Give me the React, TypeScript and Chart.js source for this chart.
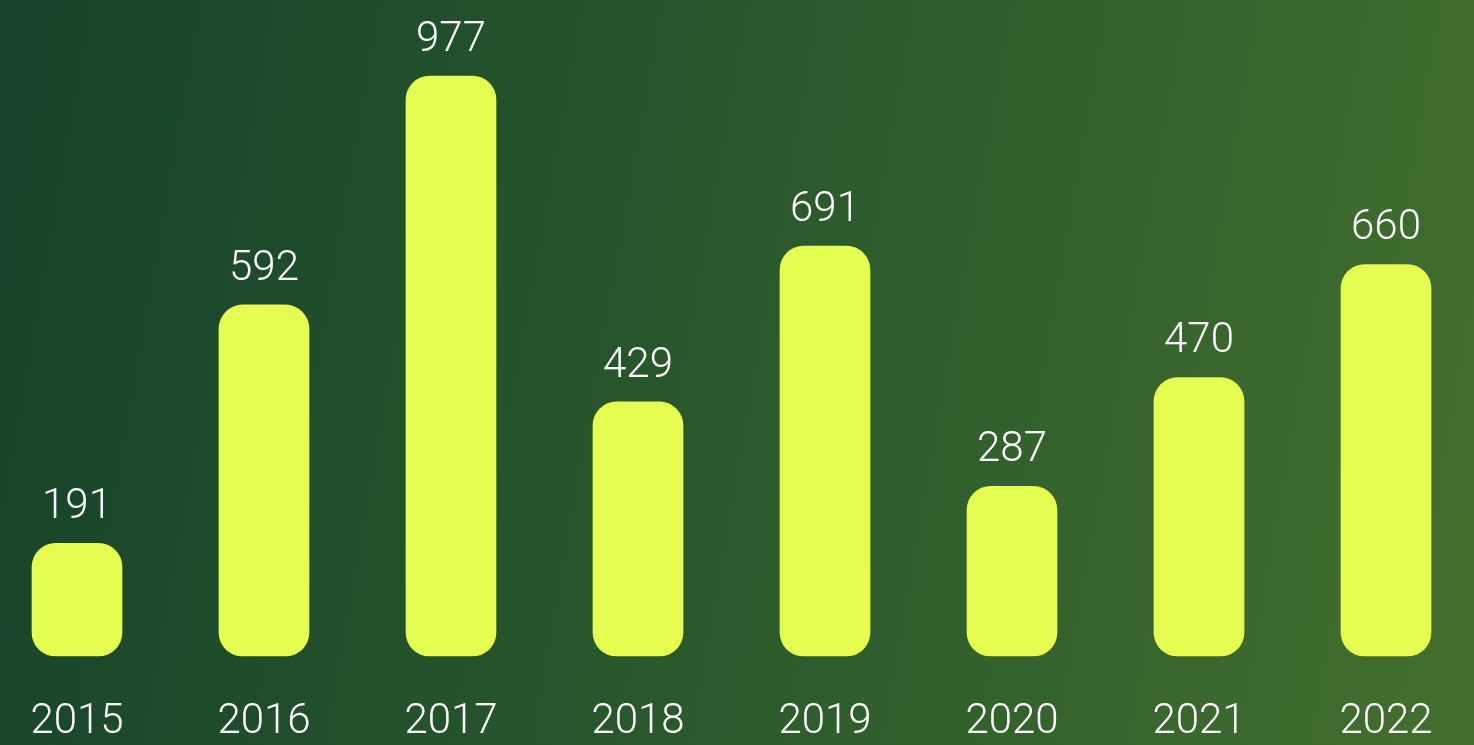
import React, { useEffect, useRef } from "react";
import { Chart, registerables } from "chart.js";

Chart.register(...registerables);

const years = ["2015", "2016", "2017", "2018", "2019", "2020", "2021", "2022"];
const counts = [191, 592, 977, 429, 691, 287, 470, 660];

const FONT = "Roboto";

const valueLabels = {
  id: "valueLabels",
  afterDatasetsDraw(chart: any) {
    const ctx = chart.ctx;
    const meta = chart.getDatasetMeta(0);
    ctx.save();
    ctx.fillStyle = "#ffffff";
    ctx.font = `300 42px ${FONT}`;
    ctx.textAlign = "center";
    ctx.textBaseline = "alphabetic";
    meta.data.forEach((bar: any, i: number) => {
      ctx.fillText(String(counts[i]), bar.x, bar.y - 25);
    });
    ctx.restore();
  },
};

export default function App() {
  const ref = useRef<HTMLCanvasElement | null>(null);
  useEffect(() => {
    if (!ref.current) return;
    const chart = new Chart(ref.current, {
      type: "bar",
      data: {
        labels: years,
        datasets: [
          {
            data: counts,
            backgroundColor: "#e5fc50",
            borderRadius: 24,
            borderSkipped: false,
            categoryPercentage: 1,
            barPercentage: 0.485,
          },
        ],
      },
      options: {
        animation: false,
        responsive: true,
        maintainAspectRatio: false,
        layout: { padding: { left: 23.5, right: 34.5, top: 62, bottom: 0 } },
        plugins: { legend: { display: false }, tooltip: { enabled: false } },
        scales: {
          x: {
            offset: true,
            grid: { display: false, drawTicks: false },
            border: { display: false },
            ticks: {
              color: "#ffffff",
              font: { family: FONT, size: 42, weight: "300" as any },
              padding: 41,
              maxRotation: 0,
              autoSkip: false,
            },
          },
          y: { display: false, min: 0, max: 1000 },
        },
      },
      plugins: [valueLabels],
    });
    return () => chart.destroy();
  }, []);
  return (
    <div
      style={{
        position: "fixed",
        left: 0,
        top: 0,
        width: 1474,
        height: 745,
        overflow: "hidden",
        background: "linear-gradient(100deg, #16432a 0%, #2a592c 50%, #436f2e 100%)",
      }}
    >
      <div style={{ position: "absolute", left: -40, top: 0, width: 1554, height: 789 }}>
        <canvas ref={ref} />
      </div>
    </div>
  );
}
